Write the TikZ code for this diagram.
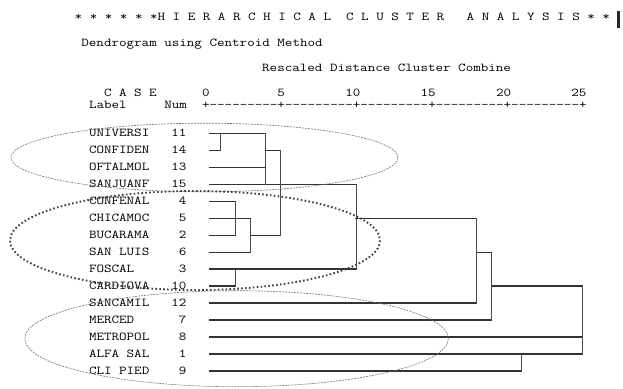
\documentclass[tikz,border=0pt]{standalone}
\usepackage{graphicx}
\usepackage{xcolor}
\usetikzlibrary{positioning}
\newcommand{\spss}[1]{\scalebox{1.22}[1]{#1}}
\newcommand{\spssdash}{-\kern0pt}
\newcommand{\spssseg}{\spssdash\spssdash\spssdash\spssdash\spssdash\spssdash\spssdash\spssdash\spssdash+}

\begin{document}
\begin{tikzpicture}[x=1pt, y=-1pt,
    mono/.style={inner sep=0pt, text=black, font=\fontsize{12}{14}\selectfont\ttfamily},
    casetxt/.style={mono, anchor=base west},
    numtxt/.style={mono, anchor=base east},
    hline/.style={line width=1.3pt, draw=black!80, line cap=rect},
    vline/.style={line width=1pt, draw=black!70, line cap=rect},
    ring/.style={draw=black!55, line width=0.6pt, dash pattern=on 2pt off 1pt},
    dotring/.style={draw=black!75, line width=1.9pt, dash pattern=on 1.6pt off 2.3pt}]
\useasboundingbox (0,0) rectangle (623,388);

% headings
\node[casetxt] (title) at (74.5,20.6)
    {\spss{*~*~*~*~*~*H~I~E~R~A~R~C~H~I~C~A~L~~C~L~U~S~T~E~R~~~A~N~A~L~Y~S~I~S~*~*}};
\draw[line width=2.2pt, black!85] (618.5,11) -- (618.5,28);
\node[casetxt] (method) at (81.2,46.6) {\spss{Dendrogram~using~Centroid~Method}};
\node[casetxt] (rescaled) at (262,71.6) {\spss{Rescaled~Distance~Cluster~Combine}};
\node[casetxt] (case) at (103.8,96)
    {\spss{C~A~S~E~~~~~~0~~~~~~~~~5~~~~~~~~10~~~~~~~~15~~~~~~~~20~~~~~~~~25}};
\node[casetxt] (axis) at (88.8,108.6)
    {\spss{Label~~~~~Num~~+\spssseg\spssseg\spssseg\spssseg\spssseg}};

% distance columns
\foreach \d in {1,2,3,4,5,10,18,19,21,25}
    \coordinate (d\d) at (205.5+15.06*\d,110);

% cases and their leaf lines
\foreach \lab/\num/\stop [count=\i from 0] in {UNIVERSI/11/4, CONFIDEN/14/1,
    OFTALMOL/13/4, SANJUANF/15/10, CONFENAL/4/2, CHICAMOC/5/3, BUCARAMA/2/2,
    SAN~LUIS/6/3, FOSCAL/3/10, CARDIOVA/10/2, SANCAMIL/12/18, MERCED/7/19,
    METROPOL/8/25, ALFA~SAL/1/25, CLI~PIED/9/21} {
  \pgfmathsetmacro{\yrow}{133.3+16.98*\i}
  \node[casetxt] (lab-\i) at (88.8,\yrow+3.6) {\spss{\lab}};
  \node[numtxt] (num-\i) at (186.7,\yrow+3.6) {\spss{\num}};
  \coordinate (leaf-\i) at (209.2,\yrow);
  \draw[hline] (leaf-\i) -- (leaf-\i -| d\stop);
}

% joins
\foreach \r/\a/\b in {1/4/5, 6/3/5, 5/10/18, 7/18/19, 9/19/25}
    \draw[hline] (leaf-\r -| d\a) -- (leaf-\r -| d\b);
\foreach \d/\a/\b in {1/0/1, 4/0/3, 5/1/6, 2/4/6, 3/5/7, 2/8/9,
    10/3/8, 18/5/10, 19/7/11, 25/9/13, 21/13/14}
    \draw[vline] (leaf-\a -| d\d) -- (leaf-\b -| d\d);

% groups
\draw[ring] (204.5,157.5) ellipse [x radius=193.5, y radius=34.3];
\draw[dotring] (195,240.5) ellipse [x radius=185, y radius=49.5];
\draw[ring] (236.5,338.7) ellipse [x radius=211.8, y radius=48];
\end{tikzpicture}
\end{document}
